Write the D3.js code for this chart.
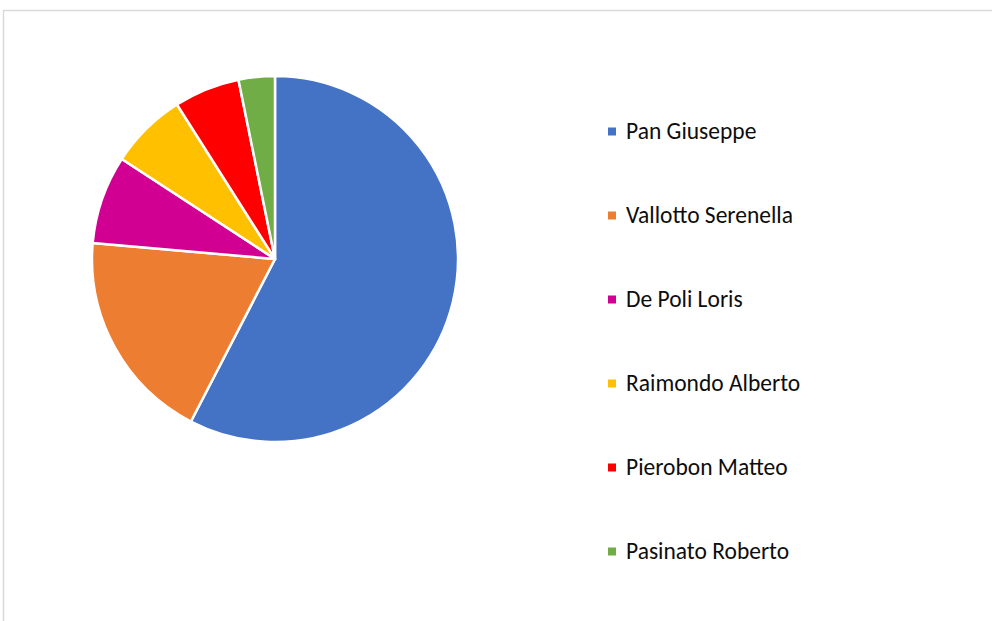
<!DOCTYPE html>
<html>
<head>
<meta charset="utf-8">
<script src="https://cdn.jsdelivr.net/npm/d3@7"></script>
<style>
  html, body { margin: 0; padding: 0; background: #ffffff; }
  svg { display: block; }
</style>
</head>
<body>
<div id="chart"></div>
<script>
// Candidates and their share of the vote (%)
const candidates = ["Pan Giuseppe", "Vallotto Serenella", "De Poli Loris", "Raimondo Alberto", "Pierobon Matteo", "Pasinato Roberto"];
const shares = [57.6, 18.8, 7.8, 6.8, 5.8, 3.2];
const colors = ["#4472C4", "#ED7D31", "#D10093", "#FFC000", "#FF0000", "#70AD47"];

const width = 992, height = 621;
const cx = 275, cy = 259, radius = 183;

const svg = d3.select("#chart").append("svg")
  .attr("width", width)
  .attr("height", height);

// Chart area frame
svg.append("rect")
  .attr("x", 3.5).attr("y", 10.5)
  .attr("width", width + 10).attr("height", height + 10)
  .attr("fill", "#ffffff")
  .attr("stroke", "#d9d9d9")
  .attr("stroke-width", 1.5);

const data = candidates.map((name, i) => ({ name, value: shares[i], color: colors[i] }));

const pie = d3.pie().sort(null).value(d => d.value);
const arc = d3.arc().innerRadius(0).outerRadius(radius);

svg.append("g")
  .attr("transform", `translate(${cx},${cy})`)
  .selectAll("path")
  .data(pie(data))
  .join("path")
  .attr("d", arc)
  .attr("fill", d => d.data.color)
  .attr("stroke", "#ffffff")
  .attr("stroke-width", 2.5)
  .attr("stroke-linejoin", "round");

// Legend
const legendY = d3.scalePoint().domain(candidates).range([131, 551]);

const legend = svg.append("g")
  .selectAll("g")
  .data(data)
  .join("g")
  .attr("transform", d => `translate(608,${legendY(d.name)})`);

legend.append("rect")
  .attr("x", 0).attr("y", -3.5)
  .attr("width", 8).attr("height", 8)
  .attr("fill", d => d.color);

legend.append("text")
  .attr("x", 18)
  .attr("y", 0)
  .attr("dy", "0.35em")
  .attr("font-family", "Carlito, Calibri, 'Open Sans', 'Liberation Sans', sans-serif")
  .attr("font-size", 23.5)
  .attr("fill", "#0d0d0d")
  .text(d => d.name);
</script>
</body>
</html>
